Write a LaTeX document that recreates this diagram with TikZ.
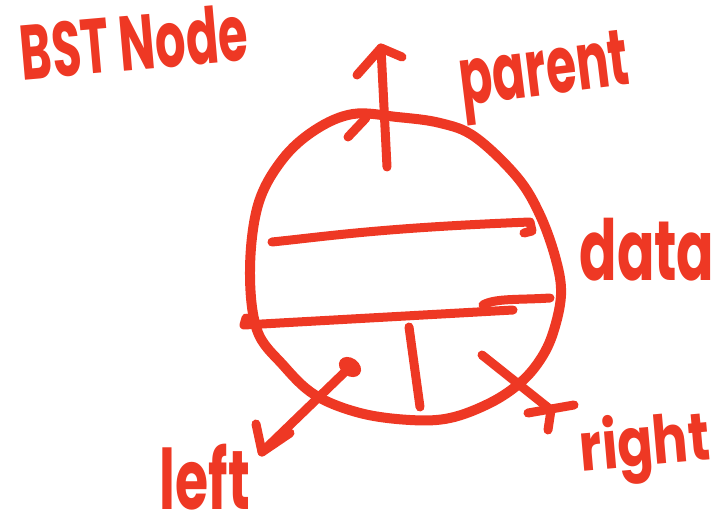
\documentclass[tikz,border=0pt]{standalone}
\usepackage{fontspec}
\setmainfont{Poppins}
\usepackage{graphicx}
\definecolor{ink}{RGB}{238,56,36}
\begin{document}
\begin{tikzpicture}[x=1pt,y=-1pt,
  pen/.style={draw=ink,line width=9pt,line cap=round,line join=round},
  lbl/.style={text=ink,inner sep=0pt,font=\bfseries}]
\useasboundingbox (0,0) rectangle (717,526);
% title
\node[lbl,rotate=5] (title) at (134,42) {\resizebox*{228pt}{58pt}{BST Node}};
% body circle
\draw[pen,line width=10pt] plot[smooth cycle,tension=0.6] coordinates {
 (353,114) (397,117) (440,123) (475,137) (517,177) (540,215) (556,260)
 (561,295) (553,333) (540,360) (520,383) (490,403) (450,418) (410,420)
 (360,413) (315,395) (283,365) (257,330) (250,270) (258,205) (282,160) (315,130)};
\draw[pen] (348,137) -- (366,118);
% fields
\coordinate (l1a) at (272,242); \coordinate (l1b) at (530,222);
\draw[pen] (l1a) .. controls (330,236) and (380,228) .. (l1b) -- (532,231) -- (524,233);
\coordinate (l2a) at (244,325); \coordinate (l2b) at (513,310);
\draw[pen] (246,318) -- (l2a) -- (l2b);
\coordinate (l3a) at (483,305); \coordinate (l3b) at (550,298);
\draw[pen] (l3a) .. controls (495,298) and (520,300) .. (l3b);
\coordinate (va) at (409,327); \coordinate (vb) at (420,407);
\draw[pen] (va) -- (vb);
% parent pointer
\coordinate (pa) at (387,167); \coordinate (pb) at (381,48);
\draw[pen] (pa) -- (pb);
\draw[pen] (357,75) -- (pb) -- (402,57);
\node[lbl,rotate=7] (parent) at (545,78) {\resizebox*{170pt}{76pt}{parent}};
% data label
\node[lbl] (data) at (647,250) {\resizebox*{135pt}{63pt}{data}};
% left pointer
\coordinate (ls) at (350,367); \coordinate (lt) at (262,452);
\fill[ink,rotate around={-35:(ls)}] (ls) ellipse (12pt and 9pt);
\draw[pen] (ls) -- (lt);
\draw[pen] (256,424) -- (lt) -- (290,433);
\node[lbl] (left) at (205,477) {\resizebox*{90pt}{66pt}{left}};
% right pointer
\coordinate (rs) at (482,355); \coordinate (rt) at (551,410);
\draw[pen] (rs) -- (rt) -- (548,430);
\draw[pen] (528,413) -- (574,405);
\node[lbl,rotate=5] (right) at (645,448) {\resizebox*{130pt}{72pt}{right}};
\end{tikzpicture}
\end{document}
